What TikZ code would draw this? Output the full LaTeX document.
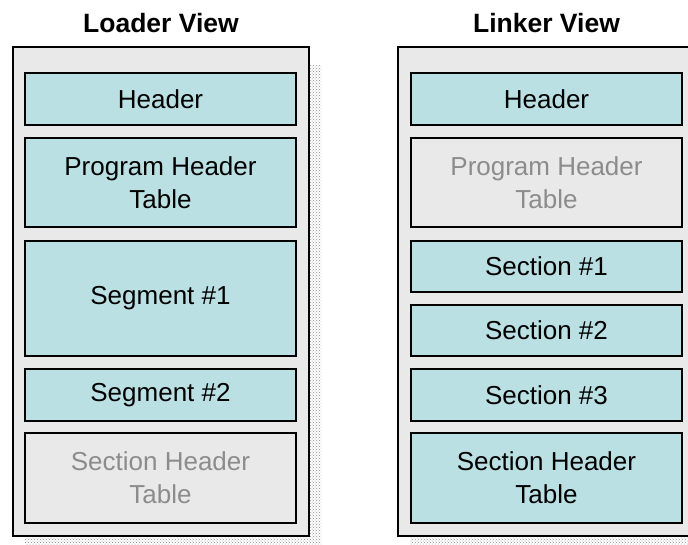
\documentclass[tikz,border=0pt]{standalone}
\usepackage{fontspec}
\setmainfont{Liberation Sans}
\usetikzlibrary{positioning}
\usetikzlibrary{patterns}
\usetikzlibrary{shadows}
\definecolor{partfill}{RGB}{186,224,227}
\definecolor{panelfill}{RGB}{233,233,233}
\definecolor{dimtext}{RGB}{140,140,140}
\tikzset{
	every node/.style={align=center,inner sep=0pt,outer sep=0pt},
	panel/.style={draw,fill=panelfill,line width=2pt,anchor=north west,
		minimum height=489pt,
		general shadow={shadow xshift=12pt,shadow yshift=-18pt,pattern=crosshatch dots,pattern color=black!45}},
	part/.style={draw,fill=partfill,line width=1.6pt,anchor=north west,
		minimum width=271pt,font=\fontsize{26}{33}\selectfont},
	unused/.style={part,fill=panelfill,text=dimtext},
	viewtitle/.style={anchor=base,font=\fontsize{26.5}{31}\selectfont\bfseries},
}

\begin{document}
\begin{tikzpicture}[x=1pt,y=-1pt]
	\useasboundingbox (0,0) rectangle (688,544);
	\clip (0,0) rectangle (688,544);
	
	% titles.....................
	\node [viewtitle] (loadertitle) at (161,32) {Loader View};
	\node [viewtitle] (linkertitle) at (546.5,32) {Linker View};
	
	% panels.....................
	\node [panel,minimum width=296pt] (loader) at (13,47) {};
	\node [panel,minimum width=297pt] (linker) at (398,47) {};
	
	% loader view parts..........
	\node [part,minimum height=52pt] (lhdr) at (25,73) {Header};
	\node [part,minimum height=89pt] (lpht) at (25,138) {Program Header\\Table};
	\node [part,minimum height=115pt] (lseg1) at (25,241) {Segment \#1};
	\node [part,minimum height=52pt] (lseg2) at (25,369) {Segment \#2};
	\node [unused,minimum height=90pt] (lsht) at (25,433) {Section Header\\Table};
	
	% linker view parts..........
	\node [part,minimum height=52pt] (rhdr) at (411,73) {Header};
	\node [unused,minimum height=89pt] (rpht) at (411,138) {Program Header\\Table};
	\node [part,minimum height=51pt] (rsec1) at (411,241) {Section \#1};
	\node [part,minimum height=51pt] (rsec2) at (411,305) {Section \#2};
	\node [part,minimum height=52pt] (rsec3) at (411,369) {Section \#3};
	\node [part,minimum height=90pt] (rsht) at (411,433) {Section Header\\Table};
\end{tikzpicture}
\end{document}
